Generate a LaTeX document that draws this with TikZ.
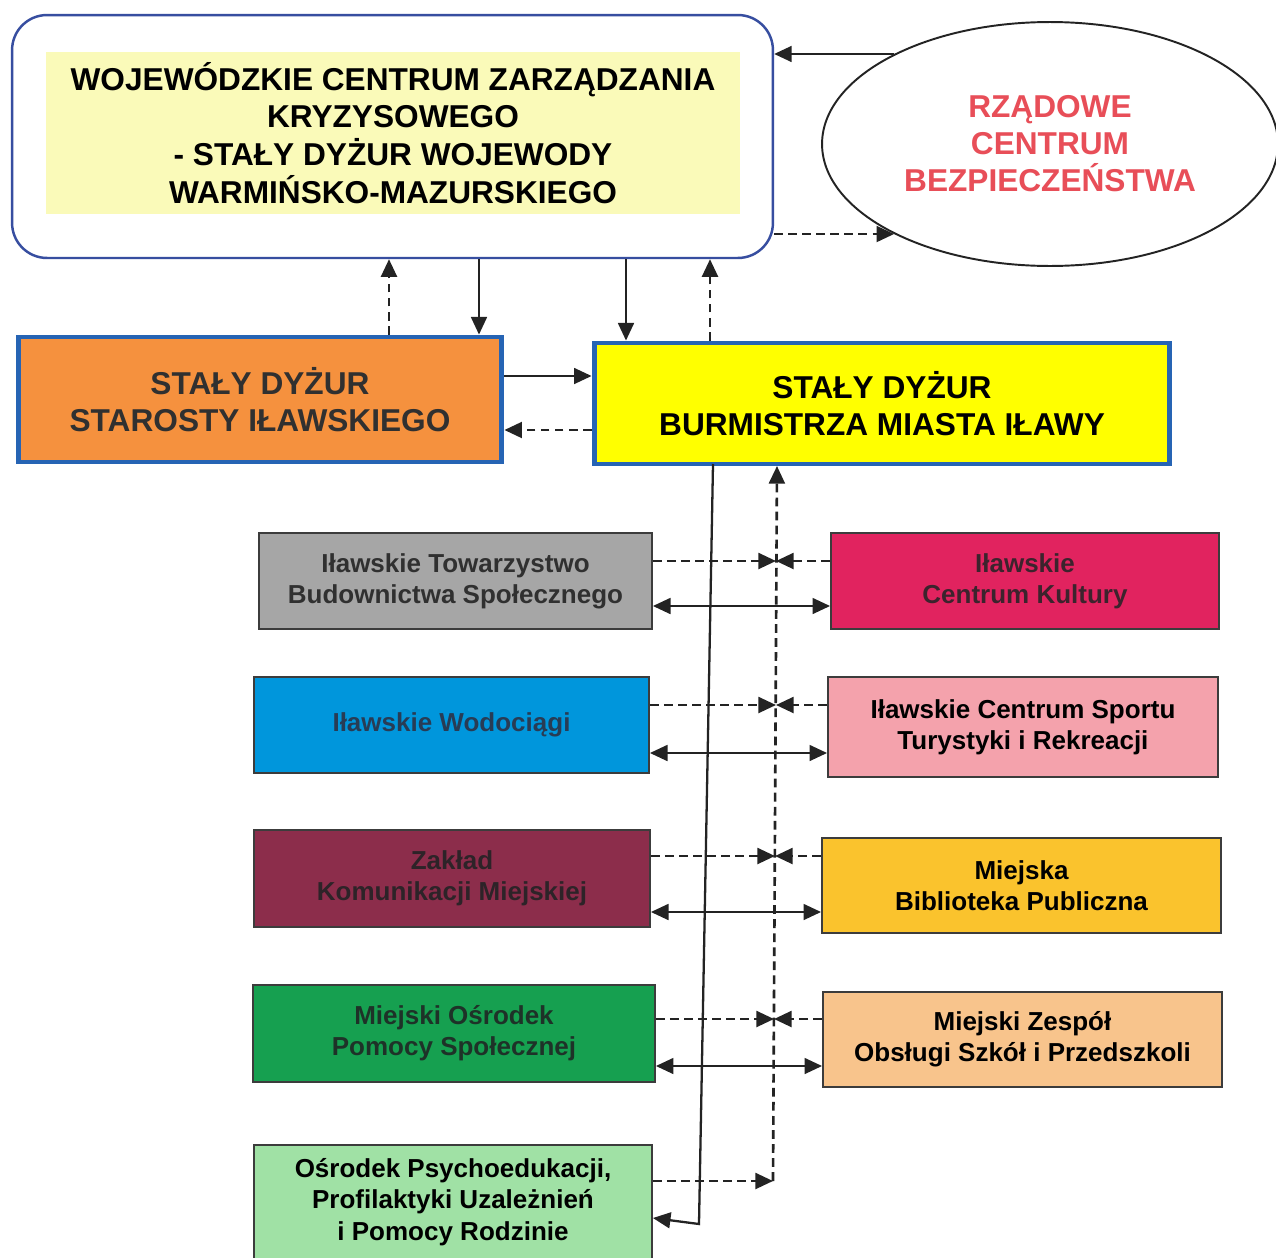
\documentclass[tikz,border=0pt]{standalone}
\usepackage{fontspec}
\setmainfont{Liberation Sans}
\usetikzlibrary{arrows.meta,shapes.geometric,calc}
\definecolor{topborder}{RGB}{55,78,160}
\definecolor{paleyellow}{RGB}{250,250,185}
\definecolor{redtxt}{RGB}{232,78,88}
\definecolor{orangefill}{RGB}{245,145,62}
\definecolor{boxblue}{RGB}{38,100,180}
\definecolor{pureyellow}{RGB}{255,255,0}
\definecolor{grayfill}{RGB}{166,166,166}
\definecolor{crimson}{RGB}{225,35,95}
\definecolor{skyblue}{RGB}{0,150,220}
\definecolor{lightpink}{RGB}{244,162,172}
\definecolor{maroon}{RGB}{140,45,75}
\definecolor{gold}{RGB}{250,195,45}
\definecolor{greenfill}{RGB}{22,160,80}
\definecolor{peach}{RGB}{248,196,140}
\definecolor{lightgreen}{RGB}{160,225,165}
\definecolor{darktxt}{RGB}{48,48,48}
\definecolor{linec}{RGB}{35,35,35}
\definecolor{thinborder}{RGB}{60,60,60}
\begin{document}
\begin{tikzpicture}[x=0.02cm,y=-0.02cm,
  bigtxt/.style={font=\bfseries\fontsize{18}{21.5}\selectfont, align=center},
  boxtxt/.style={font=\bfseries\fontsize{14.8}{17.8}\selectfont, align=center},
  bluebox/.style={draw=boxblue, line width=2.8pt, inner sep=0pt, bigtxt},
  smallbox/.style={draw=thinborder, line width=1.1pt, inner sep=0pt, boxtxt},
  arr/.style={draw=linec, line width=1.3pt, -{Triangle[length=10pt,width=9pt]}},
  dasharr/.style={arr, line width=1.5pt, dash pattern=on 5pt off 3pt},
  dblarr/.style={draw=linec, line width=1.3pt, {Triangle[length=10pt,width=9pt]}-{Triangle[length=10pt,width=9pt]}}]
\useasboundingbox (0,0) rectangle (1276,1258);
\fill[white] (0,0) rectangle (1276,1258);

% top box
\node[draw=topborder, line width=1.4pt, rounded corners=0.7cm, minimum width=15.22cm, minimum height=4.86cm] (top) at (392.5,136.5) {};
\node[fill=paleyellow, minimum width=13.88cm, minimum height=3.24cm, inner sep=0pt, bigtxt] (topin) at (393,133)
  {WOJEWÓDZKIE CENTRUM ZARZĄDZANIA\\KRYZYSOWEGO\\- STAŁY DYŻUR WOJEWODY\\WARMIŃSKO-MAZURSKIEGO};

% ellipse
\node[ellipse, draw=linec, line width=1.1pt, minimum width=9.12cm, minimum height=4.88cm, inner sep=0pt,
  align=center, text=redtxt, font=\bfseries\fontsize{18}{21}\selectfont] (ell) at (1050,144)
  {RZĄDOWE\\CENTRUM\\BEZPIECZEŃSTWA};

% second level
\node[bluebox, fill=orangefill, text=darktxt, minimum width=9.68cm, minimum height=2.5cm] (star) at (260,399.5)
  {STAŁY DYŻUR\\STAROSTY IŁAWSKIEGO};
\node[bluebox, fill=pureyellow, minimum width=11.52cm, minimum height=2.42cm] (burm) at (882,403.5)
  {STAŁY DYŻUR\\BURMISTRZA MIASTA IŁAWY};

% left boxes
\node[smallbox, fill=grayfill, text=darktxt, minimum width=7.86cm, minimum height=1.92cm] (L1) at (455.5,581)
  {Iławskie Towarzystwo\\Budownictwa Społecznego};
\node[smallbox, fill=skyblue, text={rgb,255:red,40;green,60;blue,85}, minimum width=7.9cm, minimum height=1.92cm] (L2) at (451.5,725)
  {Iławskie Wodociągi};
\node[smallbox, fill=maroon, text={rgb,255:red,45;green,35;blue,40}, minimum width=7.92cm, minimum height=1.94cm] (L3) at (452,878.5)
  {Zakład\\Komunikacji Miejskiej};
\node[smallbox, fill=greenfill, text={rgb,255:red,30;green,50;blue,40}, minimum width=8.04cm, minimum height=1.94cm] (L4) at (454,1033.5)
  {Miejski Ośrodek\\Pomocy Społecznej};
\node[smallbox, fill=lightgreen, text=black, minimum width=7.96cm, minimum height=2.28cm] (L5) at (453,1202)
  {Ośrodek Psychoedukacji,\\Profilaktyki Uzależnień\\i Pomocy Rodzinie};

% right boxes
\node[smallbox, fill=crimson, text={rgb,255:red,60;green,35;blue,45}, minimum width=7.76cm, minimum height=1.92cm] (R1) at (1025,581)
  {Iławskie\\Centrum Kultury};
\node[smallbox, fill=lightpink, text=black, minimum width=7.8cm, minimum height=2.0cm] (R2) at (1023,727)
  {Iławskie Centrum Sportu\\Turystyki i Rekreacji};
\node[smallbox, fill=gold, text=black, minimum width=7.98cm, minimum height=1.9cm] (R3) at (1021.5,885.5)
  {Miejska\\Biblioteka Publiczna};
\node[smallbox, fill=peach, text=black, minimum width=7.98cm, minimum height=1.9cm] (R4) at (1022.5,1039.5)
  {Miejski Zespół\\Obsługi Szkół i Przedszkoli};

% helper coordinates
\coordinate (ax1) at (389,0);
\coordinate (ax2) at (479,0);
\coordinate (ax3) at (626,0);
\coordinate (ax4) at (710,0);
\coordinate (ay1) at (0,376);
\coordinate (ay2) at (0,430);
\coordinate (sstart) at (713,464);
\coordinate (scorner) at (699,1224);
\coordinate (dtop) at (777,466);
\coordinate (dcorner) at (773,1181);
\coordinate (d1) at (776,561);
\coordinate (d2) at (776,705);
\coordinate (d3) at (775,856);
\coordinate (d4) at (774,1019);
\coordinate (s1) at (0,606);
\coordinate (s2) at (0,753);
\coordinate (s3) at (0,912);
\coordinate (s4) at (0,1066);
\coordinate (s5) at (0,1218);

% ellipse <-> top
\draw[arr] (ell.150) -- (top.east |- ell.150);
\draw[dasharr] (top.east |- ell.210) -- (ell.210);

% top <-> second level
\draw[dasharr] (star.north -| ax1) -- (top.south -| ax1);
\draw[arr] (top.south -| ax2) -- (star.north -| ax2);
\draw[arr] (top.south -| ax3) -- (burm.north -| ax3);
\draw[dasharr] (burm.north -| ax4) -- (top.south -| ax4);
\draw[arr] (star.east |- ay1) -- (burm.west |- ay1);
\draw[dasharr] (burm.west |- ay2) -- (star.east |- ay2);

% solid spine
\draw[arr] (sstart) -- (scorner) -- (L5.east |- s5);

% dashed spine
\draw[dasharr] (dcorner) -- (dtop);

% rows
\draw[dasharr] (L1.east |- d1) -- (d1);
\draw[dasharr] (R1.west |- d1) -- (d1);
\draw[dblarr] (L1.east |- s1) -- (R1.west |- s1);

\draw[dasharr] (L2.east |- d2) -- (d2);
\draw[dasharr] (R2.west |- d2) -- (d2);
\draw[dblarr] (L2.east |- s2) -- (R2.west |- s2);

\draw[dasharr] (L3.east |- d3) -- (d3);
\draw[dasharr] (R3.west |- d3) -- (d3);
\draw[dblarr] (L3.east |- s3) -- (R3.west |- s3);

\draw[dasharr] (L4.east |- d4) -- (d4);
\draw[dasharr] (R4.west |- d4) -- (d4);
\draw[dblarr] (L4.east |- s4) -- (R4.west |- s4);

\draw[dasharr] (L5.east |- dcorner) -- (dcorner);
\end{tikzpicture}
\end{document}
